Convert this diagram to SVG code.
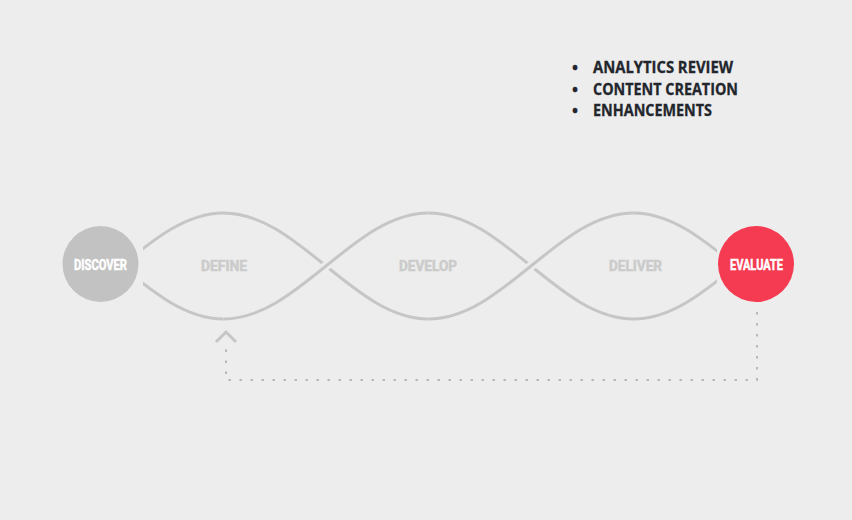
<svg xmlns="http://www.w3.org/2000/svg" width="852" height="520" viewBox="0 0 852 520">
<defs>
<style>
.wave{fill:none;stroke:#c6c6c6;stroke-width:3}
.halo{fill:none;stroke:#ededed;stroke-width:9}
.lbl{font-family:"Liberation Sans Narrow","Roboto","Liberation Sans",sans-serif;font-weight:bold;font-size:14.5px;text-anchor:middle;stroke-width:0.5px}
.stage{fill:#cbcbcb;stroke:#cbcbcb}
.node{fill:#ffffff;stroke:#ffffff}
.bul{font-family:"Open Sans","Liberation Sans",sans-serif;font-weight:bold;font-size:16px;fill:#22262c;stroke:#22262c;stroke-width:0.3px}
</style>
<clipPath id="clip"><rect x="143" y="180" width="574" height="170"/></clipPath>
</defs>
<rect width="852" height="520" fill="#ededed"/>
<g id="connectors">
<g clip-path="url(#clip)">
<path class="wave" d="M121,266 C154.43,238.85 186.4,213 223.5,213 C260.6,213 292.57,238.85 326,266 C359.43,293.15 391.4,319 428.5,319 C465.6,319 497.57,293.15 531,266 C564.43,238.85 596.4,213 633.5,213 C670.6,213 702.57,238.85 736,266"/>
<path class="wave" d="M121,266 C154.43,293.15 186.4,319 223.5,319 C260.6,319 292.57,293.15 326,266 C359.43,238.85 391.4,213 428.5,213 C465.6,213 497.57,238.85 531,266 C564.43,293.15 596.4,319 633.5,319 C670.6,319 702.57,293.15 736,266"/>
<path class="halo" d="M223.5,319 C260.6,319 292.57,293.15 326,266 C359.43,238.85 391.4,213 428.5,213"/>
<path class="wave" d="M223.5,319 C260.6,319 292.57,293.15 326,266 C359.43,238.85 391.4,213 428.5,213"/>
<path class="halo" d="M428.5,319 C465.6,319 497.57,293.15 531,266 C564.43,238.85 596.4,213 633.5,213"/>
<path class="wave" d="M428.5,319 C465.6,319 497.57,293.15 531,266 C564.43,238.85 596.4,213 633.5,213"/>
</g>
<path d="M757,312 V380 H226 V343" fill="none" stroke="#b8b8b8" stroke-width="2" stroke-dasharray="2.5 8.5"/>
<path d="M216,342 L226,332 L236,342" fill="none" stroke="#c6c6c6" stroke-width="3"/>
</g>
<g id="discover">
<circle cx="100.5" cy="264" r="38" fill="#c2c2c2"/>
<text class="lbl node" x="100.5" y="270" textLength="53" lengthAdjust="spacingAndGlyphs">DISCOVER</text>
</g>
<g id="define">
<text class="lbl stage" x="224" y="271" textLength="46" lengthAdjust="spacingAndGlyphs">DEFINE</text>
</g>
<g id="develop">
<text class="lbl stage" x="428" y="271" textLength="58" lengthAdjust="spacingAndGlyphs">DEVELOP</text>
</g>
<g id="deliver">
<text class="lbl stage" x="635.5" y="271" textLength="53" lengthAdjust="spacingAndGlyphs">DELIVER</text>
</g>
<g id="evaluate">
<circle cx="756" cy="264" r="38" fill="#f43b52"/>
<text class="lbl node" x="756.5" y="270" textLength="53" lengthAdjust="spacingAndGlyphs">EVALUATE</text>
</g>
<g id="notes">
<text class="bul" x="575" y="73" text-anchor="middle">•</text>
<text class="bul" x="575" y="95" text-anchor="middle">•</text>
<text class="bul" x="575" y="116" text-anchor="middle">•</text>
<text class="bul" x="593" y="73" textLength="140" lengthAdjust="spacingAndGlyphs">ANALYTICS REVIEW</text>
<text class="bul" x="593" y="95" textLength="145" lengthAdjust="spacingAndGlyphs">CONTENT CREATION</text>
<text class="bul" x="593" y="116" textLength="119" lengthAdjust="spacingAndGlyphs">ENHANCEMENTS</text>
</g>
</svg>
